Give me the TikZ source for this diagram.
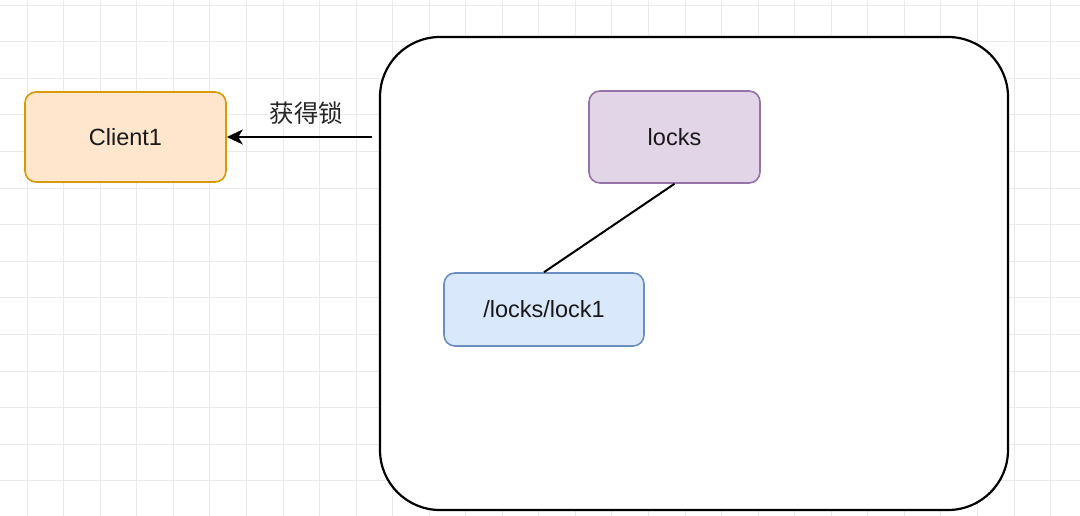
\documentclass[tikz,border=0pt]{standalone}
\usepackage{fontspec}
\setmainfont{Liberation Sans}
\newfontfamily\cjkfont{Noto Sans CJK SC}
\usetikzlibrary{arrows.meta, positioning}
\definecolor{gridgray}{RGB}{234, 234, 234}
\definecolor{clientfill}{RGB}{255, 230, 204}
\definecolor{clientline}{RGB}{215, 155, 0}
\definecolor{locksfill}{RGB}{225, 213, 231}
\definecolor{locksline}{RGB}{150, 115, 166}
\definecolor{lockfill}{RGB}{218, 232, 252}
\definecolor{lockline}{RGB}{108, 142, 191}
\tikzset{
  zkbox/.style={rectangle, rounded corners=11pt, line width=1.6pt, inner sep=0pt, text=black!90, font=\fontsize{23.5}{28}\selectfont},
}
\begin{document}
\begin{tikzpicture}[x=1pt, y=-1pt, >={Stealth[length=16pt, width=15pt, inset=4.5pt]}]
      \useasboundingbox (0,0) rectangle (1080,516);
      % background grid
      \fill[white] (0,0) rectangle (1080,516);
      \foreach \gx in {0,...,30}
        \draw[gridgray, line width=0.8pt] ({-9.5+36.55*\gx},0) -- ({-9.5+36.55*\gx},516);
      \foreach \gy in {0,...,14}
        \draw[gridgray, line width=0.8pt] (0,{5+36.6*\gy}) -- (1080,{5+36.6*\gy});

      \node (zk) [rectangle, draw=black, fill=white, line width=2.2pt, rounded corners=60pt, minimum width=628pt, minimum height=473pt] at (694,273.5) {};
      \node (locks) [zkbox, draw=locksline, fill=locksfill, minimum width=171pt, minimum height=92pt] at (674.5,137) {locks};
      \node (lock1) [zkbox, draw=lockline, fill=lockfill, minimum width=200pt, minimum height=73pt] at (544,309.5) {/locks/lock1};
      \node (client) [zkbox, draw=clientline, fill=clientfill, minimum width=201pt, minimum height=90pt] at (125.5,137) {Client1};
      \coordinate (src) at (372,137);

      \draw[line width=2pt] (locks.south) -- (lock1.north);
      \draw[->, line width=2pt] (src) -- (client.east) node[pos=0.45, above=8pt, text=black!85, font=\cjkfont\fontsize{24.5}{28}\selectfont] {获得锁};
    \end{tikzpicture}
\end{document}
